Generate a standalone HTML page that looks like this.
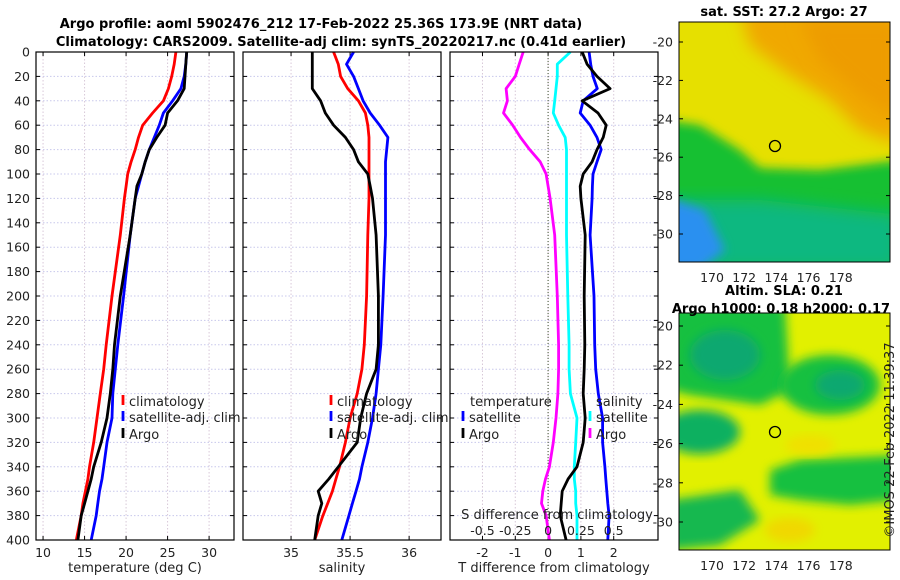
<!DOCTYPE html>
<html><head><meta charset="utf-8"><style>
body{margin:0;background:#fff;}
svg{display:block;font-family:"DejaVu Sans","Liberation Sans",sans-serif;}
</style></head><body>
<svg id="fig" width="900" height="580" viewBox="0 0 900 580" xmlns="http://www.w3.org/2000/svg">
<defs>
<filter id="bl" x="-20%" y="-20%" width="140%" height="140%"><feGaussianBlur stdDeviation="8"/></filter>
<filter id="bl2" x="-20%" y="-20%" width="140%" height="140%"><feGaussianBlur stdDeviation="5"/></filter>
<clipPath id="c1"><rect x="679" y="22" width="211" height="240"/></clipPath>
<clipPath id="c2"><rect x="679" y="313" width="211" height="237"/></clipPath>
</defs>
<text x="321" y="28" text-anchor="middle" font-weight="bold" font-size="13">Argo profile: aoml 5902476_212 17-Feb-2022 25.36S 173.9E (NRT data)</text>
<text x="341" y="46" text-anchor="middle" font-weight="bold" font-size="13">Climatology: CARS2009. Satellite-adj clim: synTS_20220217.nc (0.41d earlier)</text>

<!-- SST map -->
<g clip-path="url(#c1)">
<rect x="679" y="22" width="211" height="240" fill="#e6e000"/>
<path d="M740 10 L900 10 L900 145 L860 130 L830 100 L790 75 L750 45Z" fill="#f0a800" filter="url(#bl)"/>
<path d="M800 20 L900 20 L900 120 L860 95 L820 60Z" fill="#ee9c00" filter="url(#bl)"/>
<path d="M650 118 L700 125 L740 150 L760 168 L820 170 L900 160 L900 270 L650 270Z" fill="#18c030" filter="url(#bl2)"/>
<path d="M650 200 L760 200 L900 215 L900 270 L650 270Z" fill="#10b880" filter="url(#bl)"/>
<path d="M660 195 L705 210 L725 250 L700 270 L660 270Z" fill="#2a90f0" filter="url(#bl2)"/>
<circle cx="775" cy="146" r="5.5" fill="none" stroke="#000" stroke-width="1.3"/>
</g>
<rect x="679" y="22" width="211" height="240" fill="none" stroke="#000"/>
<text x="784" y="16" text-anchor="middle" font-weight="bold" font-size="13">sat. SST: 27.2 Argo: 27</text>

<!-- SLA map -->
<g clip-path="url(#c2)">
<rect x="679" y="313" width="211" height="237" fill="#e2f000"/>
<path d="M670 305 L785 305 L790 390 L760 405 L690 395 L670 390Z" fill="#14c040" filter="url(#bl2)"/>
<ellipse cx="725" cy="355" rx="35" ry="25" fill="#10a870" filter="url(#bl2)"/>
<ellipse cx="830" cy="385" rx="50" ry="30" fill="#14c040" filter="url(#bl2)"/>
<ellipse cx="840" cy="385" rx="25" ry="15" fill="#10a870" filter="url(#bl2)"/>
<ellipse cx="700" cy="432" rx="40" ry="22" fill="#10b060" filter="url(#bl2)"/>
<path d="M770 470 L800 460 L900 455 L900 500 L850 505 L800 500 L770 495Z" fill="#18c040" filter="url(#bl2)"/>
<path d="M670 500 L740 490 L760 520 L720 545 L670 550Z" fill="#14b850" filter="url(#bl2)"/>
<ellipse cx="790" cy="530" rx="25" ry="12" fill="#f0d800" filter="url(#bl2)"/>
<ellipse cx="810" cy="445" rx="25" ry="10" fill="#f0e000" filter="url(#bl2)"/>
<circle cx="775" cy="432" r="5.5" fill="none" stroke="#000" stroke-width="1.3"/>
</g>
<rect x="679" y="313" width="211" height="237" fill="none" stroke="#000"/>
<text x="784" y="295" text-anchor="middle" font-weight="bold" font-size="13">Altim. SLA: 0.21</text>
<text x="781" y="313" text-anchor="middle" font-weight="bold" font-size="13">Argo h1000: 0.18 h2000: 0.17</text>
<text transform="translate(894,440) rotate(-90)" text-anchor="middle" font-size="13" fill="#222">©IMOS 22-Feb-2022 11:39:37</text>
<g id="plots"></g>
</svg>
<script>
// depth levels (m)
const depths=[0,10,20,30,40,50,60,70,80,90,100,110,120,150,200,240,260,280,300,320,340,350,360,370,380,400];
// temperature (deg C)
const tClim=[26.0,25.8,25.5,25.1,24.5,23.2,22.0,21.5,21.1,20.6,20.2,20.0,19.8,19.3,18.3,17.6,17.3,16.9,16.5,16.1,15.6,15.4,15.1,14.8,14.6,14.0];
const tSat=[27.3,27.2,27.0,26.6,25.6,24.5,24.0,23.4,22.8,22.3,21.9,21.5,21.1,20.5,19.7,19.0,18.7,18.4,18.3,17.7,17.3,17.1,16.8,16.6,16.4,15.8];
const tArgo=[27.3,27.2,27.1,27.0,26.2,25.0,24.7,23.7,22.8,22.3,21.9,21.3,21.1,20.5,19.3,18.6,18.4,18.1,17.7,17.0,16.1,15.8,15.4,15.0,14.6,14.2];
// salinity (psu)
const sClim=[35.36,35.40,35.42,35.48,35.57,35.63,35.65,35.66,35.66,35.66,35.66,35.66,35.66,35.65,35.64,35.62,35.60,35.56,35.50,35.46,35.41,35.38,35.35,35.31,35.27,35.20];
const sSat=[35.53,35.47,35.53,35.57,35.61,35.67,35.75,35.82,35.81,35.80,35.80,35.80,35.80,35.80,35.78,35.76,35.74,35.72,35.69,35.65,35.60,35.58,35.55,35.52,35.49,35.43];
const sArgo=[35.18,35.18,35.18,35.18,35.25,35.29,35.36,35.46,35.53,35.57,35.65,35.67,35.69,35.72,35.74,35.74,35.72,35.64,35.59,35.56,35.40,35.32,35.23,35.26,35.23,35.20];
// differences from climatology
const dTSat=[1.25,1.30,1.37,1.50,1.07,0.98,1.28,1.49,1.62,1.49,1.37,1.35,1.34,1.28,1.40,1.42,1.45,1.53,1.66,1.66,1.73,1.76,1.79,1.82,1.86,1.82];
const dTArgo=[1.04,1.19,1.49,1.89,1.04,1.52,1.77,1.68,1.49,1.34,1.07,0.98,1.00,1.13,1.10,1.12,1.10,1.07,1.13,1.07,0.88,0.61,0.43,0.40,0.37,0.55];
const dSSat=[0.17,0.07,0.07,0.06,0.05,0.04,0.08,0.13,0.14,0.14,0.14,0.14,0.14,0.14,0.15,0.16,0.16,0.17,0.22,0.21,0.20,0.20,0.21,0.21,0.22,0.22];
const dSArgo=[-0.19,-0.22,-0.25,-0.32,-0.31,-0.34,-0.27,-0.21,-0.14,-0.06,-0.015,0.0,0.015,0.05,0.07,0.08,0.08,0.075,0.06,0.04,0.01,-0.02,-0.04,-0.05,-0.015,0.01];
const yTicks=[0,20,40,60,80,100,120,140,160,180,200,220,240,260,280,300,320,340,360,380,400];
const tTicks=[10,15,20,25,30], sTicks=[35,35.5,36], dTicks=[-2,-1,0,1,2], dsTicks=[-0.5,-0.25,0,0.25,0.5];
const latTicks=[-20,-22,-24,-26,-28,-30], lonTicks=[170,172,174,176,178];

const NS='http://www.w3.org/2000/svg', G=document.getElementById('plots');
function mk(t,a,txt){const e=document.createElementNS(NS,t);for(const k in a)e.setAttribute(k,a[k]);if(txt!==undefined)e.textContent=txt;G.appendChild(e);return e;}
const Y0=52,Y1=540; const yS=d=>Y0+(d/400)*(Y1-Y0);
function panel(x0,x1,min,max,ticks,name,label){
  const xS=v=>x0+(v-min)/(max-min)*(x1-x0);
  ticks.forEach(t=>{const g=mk('line',{x1:xS(t),x2:xS(t),y1:Y0,y2:Y1,stroke:'#d8c8d8','stroke-dasharray':'1.5,2'});
    });
  yTicks.forEach(t=>{const g=mk('line',{x1:x0,x2:x1,y1:yS(t),y2:yS(t),stroke:'#c8c8ec','stroke-dasharray':'1.5,2'});
    
    mk('line',{x1:x0,x2:x0+4,y1:yS(t),y2:yS(t),stroke:'#000'});mk('line',{x1:x1,x2:x1-4,y1:yS(t),y2:yS(t),stroke:'#000'});});
  if(label){ticks.forEach(t=>{const e=mk('text',{x:xS(t),y:557,'text-anchor':'middle','font-size':12.5,fill:'#222'},String(t));
    
    mk('line',{x1:xS(t),x2:xS(t),y1:Y1,y2:Y1-4,stroke:'#000'});mk('line',{x1:xS(t),x2:xS(t),y1:Y0,y2:Y0+4,stroke:'#000'});});
    const l=mk('text',{x:(x0+x1)/2,y:572,'text-anchor':'middle','font-size':13,fill:'#222'},label);
    }
  return xS;
}
function line(xS,vals,col,name){
  const p=vals.map((v,i)=>xS(v).toFixed(1)+','+yS(depths[i]).toFixed(1)).join(' ');
  const e=mk('polyline',{points:p,fill:'none',stroke:col,'stroke-width':2.8,'stroke-linejoin':'round'});
  
}
function frame(x0,x1,name){const f=mk('rect',{x:x0,y:Y0,width:x1-x0,height:Y1-Y0,fill:'none',stroke:'#000','stroke-width':1.2});
  }
function leg(x,y,col,txt,name){mk('line',{x1:x,x2:x,y1:y-11,y2:y-1,stroke:col,'stroke-width':2.8});
  const e=mk('text',{x:x+6,y:y,'font-size':13,fill:'#222'},txt);}

// panel 1 temperature
const x1S=panel(36,234,9.15,33.0,tTicks,'temperature-panel','temperature (deg C)');
yTicks.forEach(t=>{const e=mk('text',{x:30,y:yS(t)+4.5,'text-anchor':'end','font-size':12.5,fill:'#222'},String(t));
  });
line(x1S,tClim,'#ff0000','temp-climatology-line');line(x1S,tSat,'#0000ff','temp-satellite-line');line(x1S,tArgo,'#000','temp-argo-line');
frame(36,234,'temperature-panel-frame');
leg(123,406,'#f00','climatology','legend-climatology');leg(123,422,'#00f','satellite-adj. clim','legend-satellite');leg(123,439,'#000','Argo','legend-argo');

// panel 2 salinity
const x2S=panel(243,441,34.593,36.27,sTicks,'salinity-panel','salinity');
line(x2S,sClim,'#ff0000','sal-climatology-line');line(x2S,sSat,'#0000ff','sal-satellite-line');line(x2S,sArgo,'#000','sal-argo-line');
frame(243,441,'salinity-panel-frame');
leg(331,406,'#f00','climatology','legend-sal-climatology');leg(331,422,'#00f','satellite-adj. clim','legend-sal-satellite');leg(331,439,'#000','Argo','legend-sal-argo');

// panel 3 differences
const x3S=panel(450,658,-2.99,3.35,dTicks,'difference-panel','T difference from climatology');
const xsS=v=>x3S(v*4);
const z=mk('line',{x1:x3S(0),x2:x3S(0),y1:Y0,y2:Y1,stroke:'#405030','stroke-dasharray':'1,2'});

line(xsS,dSArgo,'#ff00ff','s-diff-argo-line');line(xsS,dSSat,'#00ffff','s-diff-satellite-line');
line(x3S,dTSat,'#0000ff','t-diff-satellite-line');line(x3S,dTArgo,'#000','t-diff-argo-line');
frame(450,658,'difference-panel-frame');
let e=mk('text',{x:470,y:406,'font-size':13,fill:'#222'},'temperature');
e=mk('text',{x:596,y:406,'font-size':13,fill:'#222'},'salinity');
leg(463,422,'#00f','satellite','legend-t-satellite');leg(463,439,'#000','Argo','legend-t-argo');
leg(590,422,'#0ff','satellite','legend-s-satellite');leg(590,439,'#f0f','Argo','legend-s-argo');
e=mk('text',{x:557,y:519,'text-anchor':'middle','font-size':13,fill:'#222'},'S difference from climatology');
dsTicks.forEach(t=>{const q=mk('text',{x:xsS(t),y:535,'text-anchor':'middle','font-size':12.5,fill:'#222'},String(t));
  });

// map axes
function mapAxes(lat20,lat30,lonY,name){
  latTicks.forEach(t=>{const y=lat20+(t+20)/-10*(lat30-lat20);
    const q=mk('text',{x:673,y:y+4.5,'text-anchor':'end','font-size':12.5,fill:'#222'},String(t));
    
    mk('line',{x1:679,x2:683,y1:y,y2:y,stroke:'#000'});mk('line',{x1:890,x2:886,y1:y,y2:y,stroke:'#000'});});
  lonTicks.forEach(t=>{const x=712+(t-170)*16.1;
    const q=mk('text',{x:x,y:lonY,'text-anchor':'middle','font-size':12.5,fill:'#222'},String(t));
    });
}
mapAxes(42,234,282,'sst-map');
mapAxes(326,522,570,'sla-map');
</script>
</body></html>
